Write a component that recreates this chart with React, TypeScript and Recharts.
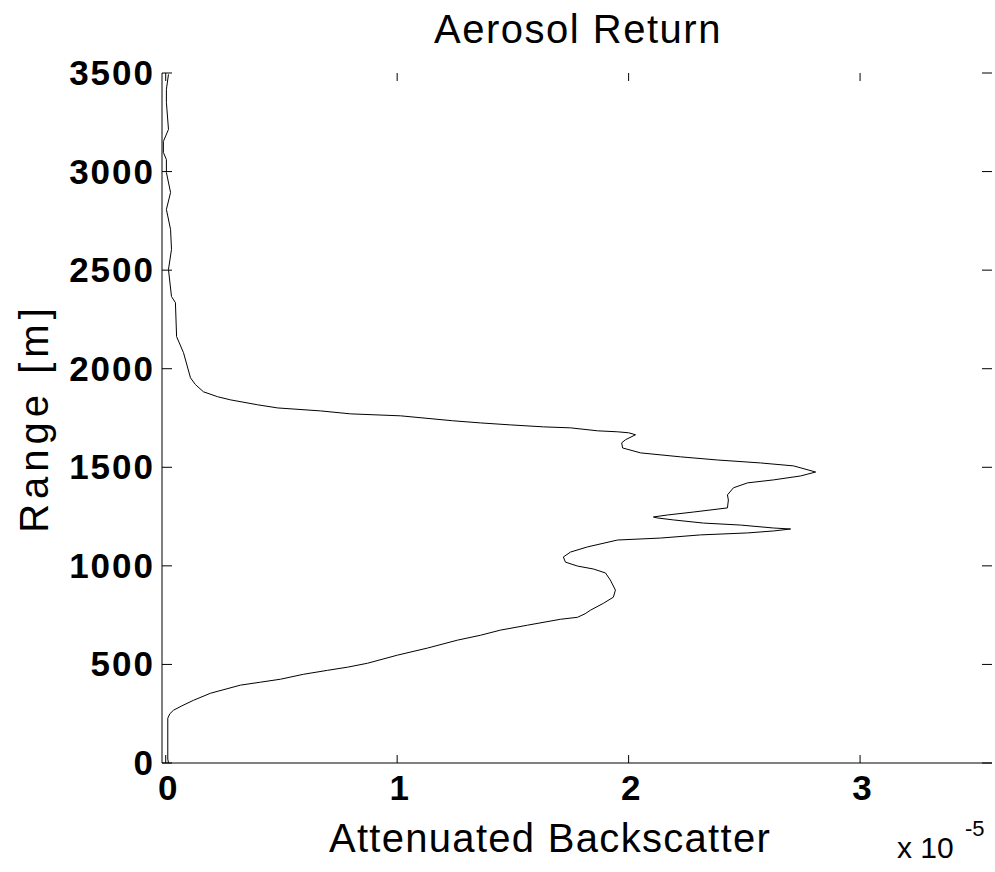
import { Scatter, ScatterChart, XAxis, YAxis } from 'recharts';

// range gates [m] and attenuated backscatter (in units of 1e-5)
const rangeM = [
  0, 20, 227, 250, 268, 290, 318, 354, 395, 410, 425, 450, 470, 486, 506, 547, 583, 623, 648, 674, 699, 729,
  739, 757, 775, 810, 841, 877, 928, 964, 984, 999, 1019, 1045, 1070, 1096, 1131, 1141, 1157, 1167, 1177, 1187, 1192,
  1207, 1217, 1233, 1243, 1248, 1258, 1273, 1294, 1334, 1360, 1396, 1421, 1436, 1456, 1476, 1507, 1522, 1537, 1553, 1573,
  1598, 1624, 1640, 1665, 1675, 1680, 1685, 1700, 1705, 1715, 1725, 1736, 1761, 1771, 1786, 1801, 1817, 1842, 1858, 1883,
  1920, 1954, 2081, 2163, 2335, 2366, 2503, 2605, 2706, 2808, 2894, 2995, 3061, 3097, 3153, 3214, 3351, 3417, 3493,
];
const backscatterE5 = [
  0.012, 0.009, 0.009, 0.018, 0.034, 0.07, 0.12, 0.194, 0.323, 0.41, 0.496, 0.595, 0.699, 0.785, 0.872, 1.001, 1.131, 1.26, 1.36, 1.446, 1.563, 1.705,
  1.779, 1.812, 1.835, 1.891, 1.934, 1.943, 1.921, 1.9, 1.848, 1.779, 1.727, 1.718, 1.749, 1.822, 1.952, 2.138, 2.311, 2.514, 2.626, 2.7, 2.626,
  2.483, 2.323, 2.194, 2.124, 2.107, 2.168, 2.28, 2.427, 2.431, 2.427, 2.453, 2.514, 2.626, 2.743, 2.808, 2.713, 2.57, 2.384, 2.224, 2.052,
  1.974, 1.97, 1.987, 2.03, 2.0, 1.952, 1.866, 1.749, 1.633, 1.49, 1.361, 1.24, 1.015, 0.799, 0.669, 0.484, 0.397, 0.28, 0.224, 0.163,
  0.128, 0.107, 0.077, 0.047, 0.042, 0.025, 0.012, 0.025, 0.021, 0.003, 0.021, 0.003, 0.003, -0.01, -0.01, 0.012, 0.003, 0.003, 0.012,
];
const xTicks = [0, 1, 2, 3];
const yTicks = [0, 500, 1000, 1500, 2000, 2500, 3000, 3500];

const W = 995;
const H = 872;
const PLOT = { left: 162, right: 992, top: 73, bottom: 763 };
const FONT = '"Liberation Sans", Arial, Helvetica, sans-serif';

const data = rangeM.map((r, i) => ({ x: backscatterE5[i], y: r }));

function XTick(props: any) {
  const { x, payload } = props;
  return (
    <g>
      <line x1={x} x2={x} y1={PLOT.bottom} y2={PLOT.bottom - 8} stroke="#000" />
      <line x1={x} x2={x} y1={PLOT.top} y2={PLOT.top + 8} stroke="#000" />
      <text x={x + 2} y={PLOT.bottom + 37} textAnchor="middle" fontSize={35} fontWeight="bold" fontFamily={FONT} fill="#000">
        {payload.value}
      </text>
    </g>
  );
}

function YTick(props: any) {
  const { y, payload } = props;
  return (
    <g>
      <line x1={PLOT.left} x2={PLOT.left + 10} y1={y} y2={y} stroke="#000" />
      <line x1={PLOT.right} x2={PLOT.right - 10} y1={y} y2={y} stroke="#000" />
      <text
        x={PLOT.left - 7}
        y={y + 12}
        textAnchor="end"
        fontSize={35}
        fontWeight="bold"
        letterSpacing={2}
        fontFamily={FONT}
        fill="#000"
      >
        {payload.value}
      </text>
    </g>
  );
}

const noDot = () => <g />;

export default function App() {
  const xDomain: [number, number] = [-0.016, 3.57];
  const yDomain: [number, number] = [0, 3500];
  return (
    <div style={{ position: 'absolute', left: 0, top: 0, width: W, height: H, background: '#fff' }}>
      <ScatterChart width={W} height={H} margin={{ top: PLOT.top, right: W - PLOT.right, bottom: 0, left: 12 }}>
        <XAxis
          xAxisId="b"
          type="number"
          dataKey="x"
          domain={xDomain}
          ticks={xTicks}
          allowDataOverflow
          height={H - PLOT.bottom}
          axisLine={{ stroke: '#000' }}
          tickLine={false}
          tick={(p: any) => <XTick {...p} />}
          interval={0}
        />
        <XAxis xAxisId="t" orientation="top" type="number" domain={xDomain} height={0} axisLine={{ stroke: '#000' }} tick={false} tickLine={false} />
        <YAxis
          yAxisId="l"
          type="number"
          dataKey="y"
          domain={yDomain}
          ticks={yTicks}
          allowDataOverflow
          width={PLOT.left - 12}
          axisLine={{ stroke: '#000' }}
          tickLine={false}
          tick={(p: any) => <YTick {...p} />}
          interval={0}
        />
        <YAxis yAxisId="r" orientation="right" type="number" domain={yDomain} width={0} axisLine={{ stroke: '#000' }} tick={false} tickLine={false} />
        <Scatter
          xAxisId="b"
          yAxisId="l"
          data={data}
          line={{ stroke: '#000', strokeWidth: 1 }}
          lineJointType="linear"
          shape={noDot}
          fill="none"
          isAnimationActive={false}
        />
      </ScatterChart>
      <svg width={W} height={H} style={{ position: 'absolute', left: 0, top: 0, pointerEvents: 'none' }} fontFamily={FONT}>
        <text x={578} y={43} textAnchor="middle" fontSize={40} letterSpacing={1.5} fill="#000">
          Aerosol Return
        </text>
        <text x={550} y={852} textAnchor="middle" fontSize={40} letterSpacing={1.3} fill="#000">
          Attenuated Backscatter
        </text>
        <text x={48} y={418} textAnchor="middle" fontSize={40} letterSpacing={5} fill="#000" transform="rotate(-90 48 418)">
          Range [m]
        </text>
        <text x={897} y={858} fontSize={30} fill="#000">
          x 10
        </text>
        <text x={965} y={836} fontSize={22} fill="#000">
          -5
        </text>
      </svg>
    </div>
  );
}
